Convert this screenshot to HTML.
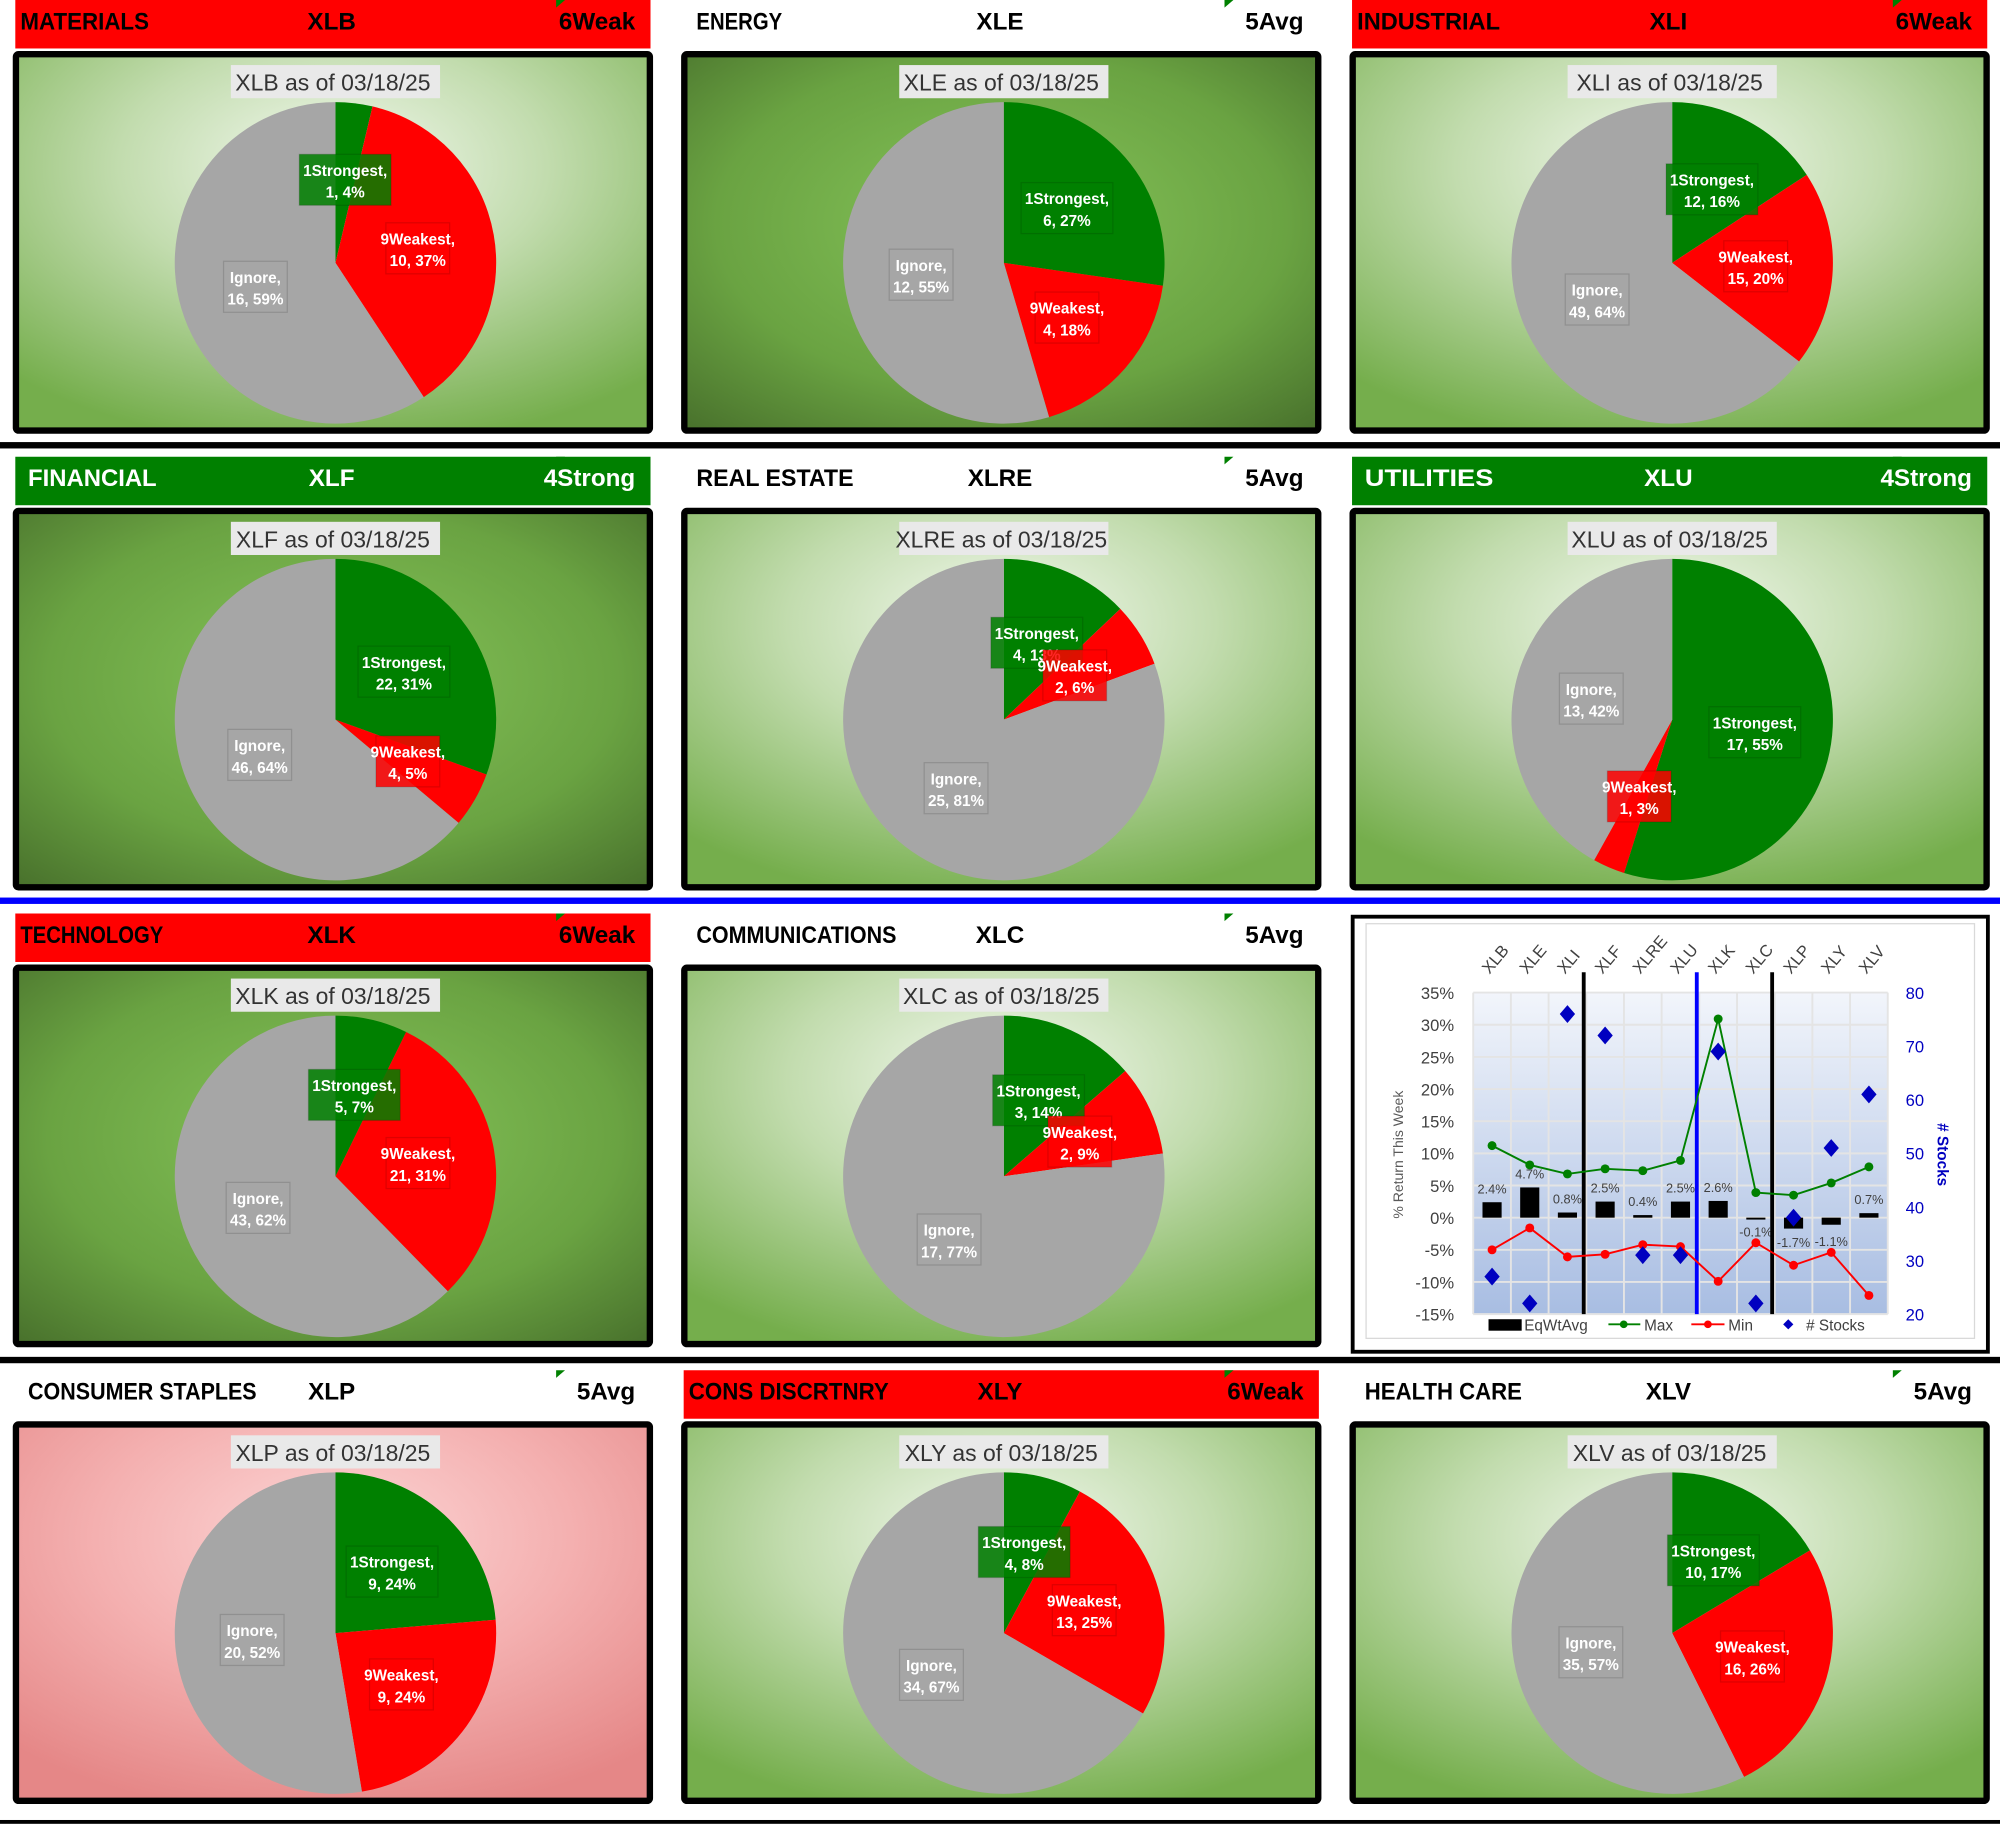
<!DOCTYPE html>
<html><head><meta charset="utf-8">
<style>
html,body{margin:0;padding:0;background:#fff;}
svg{display:block;font-family:"Liberation Sans",Arial,sans-serif;}
</style></head>
<body>
<svg id="root" width="2000" height="1827" viewBox="0 0 1568 1432" preserveAspectRatio="none" xmlns="http://www.w3.org/2000/svg">
<defs>
<radialGradient id="gLight" cx="0.5" cy="0.3" r="0.75"><stop offset="0" stop-color="#f4f9f0"/><stop offset="0.45" stop-color="#c2dcae"/><stop offset="1" stop-color="#75ae4c"/></radialGradient>
<radialGradient id="gDark" cx="0.5" cy="0.45" r="0.75"><stop offset="0" stop-color="#86c45a"/><stop offset="0.6" stop-color="#6aa342"/><stop offset="1" stop-color="#476f2b"/></radialGradient>
<radialGradient id="gPink" cx="0.5" cy="0.3" r="0.75"><stop offset="0" stop-color="#fcd6d6"/><stop offset="0.5" stop-color="#f4b0b0"/><stop offset="1" stop-color="#e58787"/></radialGradient>
<linearGradient id="gPlot" x1="0" y1="0" x2="0" y2="1"><stop offset="0" stop-color="#f2f5fb"/><stop offset="1" stop-color="#a8bde2"/></linearGradient>
</defs>
<g id="panels"></g>
<g id="combo"></g>
</svg>
<script>
const NS="http://www.w3.org/2000/svg";
function mk(parent,tag,attrs,txt){const e=document.createElementNS(NS,tag);for(const k in attrs)e.setAttribute(k,attrs[k]);if(txt!==undefined)e.textContent=txt;parent.appendChild(e);return e;}

// ---- Pie data ----
const sectorNames=["MATERIALS","ENERGY","INDUSTRIAL","FINANCIAL","REAL ESTATE","UTILITIES","TECHNOLOGY","COMMUNICATIONS","CONSUMER STAPLES","CONS DISCRTNRY","HEALTH CARE"];
const tickers=["XLB","XLE","XLI","XLF","XLRE","XLU","XLK","XLC","XLP","XLY","XLV"];
const ratings=["6Weak","5Avg","6Weak","4Strong","5Avg","4Strong","6Weak","5Avg","5Avg","6Weak","5Avg"];
const strongest=[1,6,12,22,4,17,5,3,9,4,10];
const weakest=[10,4,15,4,2,1,21,2,9,13,16];
const ignore=[16,12,49,46,25,13,43,17,20,34,35];
const strongPct=[4,27,16,31,13,55,7,14,24,8,17];
const weakPct=[37,18,20,5,6,3,31,9,24,25,26];
const ignorePct=[59,55,64,64,81,42,62,77,52,67,57];
const bgKind=["light","dark","light","dark","light","light","dark","light","pink","light","light"];
const slots=[[0,0],[1,0],[2,0],[0,1],[1,1],[2,1],[0,2],[1,2],[0,3],[1,3],[2,3]];

const root=document.getElementById('root');
const seps=[[349,"#000",5],[706,"#0000ff",5],[1066,"#000",5],[1428,"#000",3]];
seps.forEach((s,i)=>{const r=mk(root,'rect',{x:0,y:s[0]-s[2]/2,width:1568,height:s[2],fill:s[1]});

});

const pg=document.getElementById('panels');
const colX=[10,534,1058], rowY=[0,358,716,1074];
function pieLabel(g,cx,cy,r,a0,a1,lbl,val,pct,fill){
  const mid=(a0+a1)/2, d=r*0.52;
  const lx=cx+d*Math.sin(mid), ly=cy-d*Math.cos(mid);
  const w=lbl.length>8?72:50;
  const box=mk(g,'rect',{x:lx-w/2,y:ly-20,width:w,height:40,fill:fill,opacity:0.85,stroke:"rgba(0,0,0,0.15)"});
  
  
  const t=mk(g,'text',{x:lx,y:ly-3,'text-anchor':'middle','font-size':12,'font-weight':'bold',fill:'#fff'},lbl+",");
  
  
  const t2=mk(g,'text',{x:lx,y:ly+14,'text-anchor':'middle','font-size':12,'font-weight':'bold',fill:'#fff'},val+", "+pct+"%");
  
  
}
function slice(g,cx,cy,r,a0,a1,fill){
  let p;
  if(a1-a0>=2*Math.PI-1e-6){p=mk(g,'circle',{cx:cx,cy:cy,r:r,fill:fill});}
  else{const x0=cx+r*Math.sin(a0),y0=cy-r*Math.cos(a0),x1=cx+r*Math.sin(a1),y1=cy-r*Math.cos(a1);
  const large=(a1-a0)>Math.PI?1:0;
  p=mk(g,'path',{d:`M${cx},${cy} L${x0},${y0} A${r},${r} 0 ${large} 1 ${x1},${y1} Z`,fill:fill});}
  return p;
}
tickers.forEach((tk,i)=>{
  const [c,rw]=slots[i]; const x=colX[c], y=rowY[rw];
  const g=mk(pg,'g',{});
  
  
  const rating=ratings[i];
  const hfill=rating==="6Weak"?"#ff0000":(rating==="4Strong"?"#008000":"#ffffff");
  const hb=mk(g,'rect',{x:x+2,y:y,width:498,height:38,fill:hfill});
  
  
  const tri=mk(g,'path',{d:`M${x+426},${y} l7,0 l-7,6 z`,fill:'#008000'});
  
  
  const tc=rating==="4Strong"?"#fff":"#000";
  let t=mk(g,'text',{x:x+(rating==="6Weak"?6:12),y:y+23,'font-size':19,'font-weight':'bold',fill:tc,textLength:sectorNames[i].length*11.2,lengthAdjust:'spacingAndGlyphs'},sectorNames[i]);
  
  
  t=mk(g,'text',{x:x+250,y:y+23,'text-anchor':'middle','font-size':19,'font-weight':'bold',fill:tc},tk);
  
  
  t=mk(g,'text',{x:x+488,y:y+23,'text-anchor':'end','font-size':19,'font-weight':'bold',fill:tc},rating);
  
  
  const fill=bgKind[i]==="dark"?"url(#gDark)":(bgKind[i]==="pink"?"url(#gPink)":"url(#gLight)");
  const pr=mk(g,'rect',{x:x+2.5,y:y+42.5,width:497,height:295,fill:fill,stroke:'#000','stroke-width':5,rx:2});
  
  
  const cx=x+253, cy=y+206, r=126;
  const tb=mk(g,'rect',{x:cx-82,y:y+51,width:164,height:26,fill:'#e9e9e9'});
  
  
  t=mk(g,'text',{x:cx-2,y:y+71,'text-anchor':'middle','font-size':18,fill:'#333'},tk+" as of 03/18/25");
  
  
  const vals=[strongest[i],weakest[i],ignore[i]];
  const pcts=[strongPct[i],weakPct[i],ignorePct[i]];
  const tot=vals[0]+vals[1]+vals[2];
  const cols=["#008000","#ff0000","#a6a6a6"], names=["1Strongest","9Weakest","Ignore"];
  let a=0; const angs=[];
  vals.forEach((v,k)=>{const a1=a+v/tot*2*Math.PI;angs.push([a,a1]);
    const s=slice(g,cx,cy,r,a,a1,cols[k]);
    
    
    a=a1;});
  vals.forEach((v,k)=>{pieLabel(g,cx,cy,r,angs[k][0],angs[k][1],names[k],v,pcts[k],cols[k]);});
});

// ---- Combo chart ----
const cats=["XLB","XLE","XLI","XLF","XLRE","XLU","XLK","XLC","XLP","XLY","XLV"];
const eqWtAvg=[2.4,4.7,0.8,2.5,0.4,2.5,2.6,-0.1,-1.7,-1.1,0.7];
const maxRet=[11.2,8.2,6.8,7.6,7.3,8.9,30.9,3.9,3.5,5.4,7.9];
const minRet=[-5.0,-1.6,-6.1,-5.7,-4.2,-4.5,-9.9,-3.9,-7.4,-5.4,-12.1];
const numStocks=[27,22,76,72,31,31,69,22,38,51,61];
const leftTicks=[-15,-10,-5,0,5,10,15,20,25,30,35];
const rightTicks=[20,30,40,50,60,70,80];

const cg=document.getElementById('combo');


const PL=1155,PR=1480,PT=778,PB=1030;
const bw=(PR-PL)/cats.length;
const xC=i=>PL+bw*(i+0.5);
const yL=v=>PT+(35-v)/50*(PB-PT);
const yR=v=>PT+(80-v)/60*(PB-PT);
let e=mk(cg,'rect',{x:1060.5,y:718.5,width:498,height:341,fill:'#fff',stroke:'#000','stroke-width':3});


e=mk(cg,'rect',{x:1071,y:724,width:477,height:325,fill:'#fff',stroke:'#d9d9d9','stroke-width':1});


e=mk(cg,'rect',{x:PL,y:PT,width:PR-PL,height:PB-PT,fill:'url(#gPlot)'});


leftTicks.forEach(v=>{
  const gl=mk(cg,'line',{x1:PL,x2:PR,y1:yL(v),y2:yL(v),stroke:'#e4e4e4','stroke-width':1.5});
  
  
  const t=mk(cg,'text',{x:PL-15,y:yL(v)+5,'text-anchor':'end','font-size':13,fill:'#404040'},v+"%");
  
  
});
for(let i=0;i<=cats.length;i++){const l=mk(cg,'line',{x1:PL+bw*i,x2:PL+bw*i,y1:PT,y2:PB,stroke:'#e4e4e4','stroke-width':1.5});

}
rightTicks.forEach(v=>{const t=mk(cg,'text',{x:PR+14,y:yR(v)+5,'font-size':13,fill:'#0000c0'},v);

});
cats.forEach((c,i)=>{const t=mk(cg,'text',{x:xC(i)-2,y:764,'font-size':13,fill:'#404040',transform:`rotate(-50 ${xC(i)-2} 764)`},c);

});
e=mk(cg,'text',{x:1100,y:905,'text-anchor':'middle','font-size':11,fill:'#595959',transform:'rotate(-90 1100 905)'},"% Return This Week");


e=mk(cg,'text',{x:1519,y:905,'text-anchor':'middle','font-size':12,'font-weight':'bold',fill:'#0000c0',transform:'rotate(90 1519 905)'},"# Stocks");


eqWtAvg.forEach((v,i)=>{
  const y0=yL(0),y1=yL(v);
  const b=mk(cg,'rect',{x:xC(i)-7.5,y:Math.min(y0,y1),width:15,height:Math.max(Math.abs(y1-y0),1.5),fill:'#000'});
  
  
  const ly=v>=0?y1-7:yL(0)+23;
  const t=mk(cg,'text',{x:xC(i),y:v>=0?ly:Math.min(ly,yL(minRet[i])-5),'text-anchor':'middle','font-size':10,fill:'#404040'},v.toFixed(1)+"%");
  
  
});
[[3,"#000"],[6,"#0000ff"],[8,"#000"]].forEach(s=>{const l=mk(cg,'line',{x1:PL+bw*s[0]-2,x2:PL+bw*s[0]-2,y1:762,y2:PB,stroke:s[1],'stroke-width':3});

});
function series(arr,col,name){
  const pts=arr.map((v,i)=>xC(i)+","+yL(v)).join(" ");
  const pl=mk(cg,'polyline',{points:pts,fill:'none',stroke:col,'stroke-width':1.5});
  
  
  arr.forEach((v,i)=>{const c=mk(cg,'circle',{cx:xC(i),cy:yL(v),r:3.5,fill:col});
  
  });
}
series(maxRet,'#008000','max');
series(minRet,'#ff0000','min');
numStocks.forEach((v,i)=>{const x=xC(i),y=yR(v);
  const d=mk(cg,'path',{d:`M${x},${y-7} L${x+6},${y} L${x},${y+7} L${x-6},${y} Z`,fill:'#0000c0'});
  
  });
const lg=mk(cg,'g',{});


e=mk(lg,'rect',{x:1167,y:1034,width:26,height:9,fill:'#000'});


e=mk(lg,'text',{x:1195,y:1043,'font-size':12,fill:'#404040'},"EqWtAvg");


e=mk(lg,'line',{x1:1261,x2:1286,y1:1038,y2:1038,stroke:'#008000','stroke-width':1.5});


mk(lg,'circle',{cx:1273,cy:1038,r:3,fill:'#008000'});
e=mk(lg,'text',{x:1289,y:1043,'font-size':12,fill:'#404040'},"Max");


e=mk(lg,'line',{x1:1326,x2:1352,y1:1038,y2:1038,stroke:'#ff0000','stroke-width':1.5});


mk(lg,'circle',{cx:1339,cy:1038,r:3,fill:'#ff0000'});
e=mk(lg,'text',{x:1355,y:1043,'font-size':12,fill:'#404040'},"Min");


e=mk(lg,'path',{d:'M1402,1034 L1406,1038 L1402,1042 L1398,1038 Z',fill:'#0000c0'});


e=mk(lg,'text',{x:1416,y:1043,'font-size':12,fill:'#404040'},"# Stocks");


</script>
</body></html>
